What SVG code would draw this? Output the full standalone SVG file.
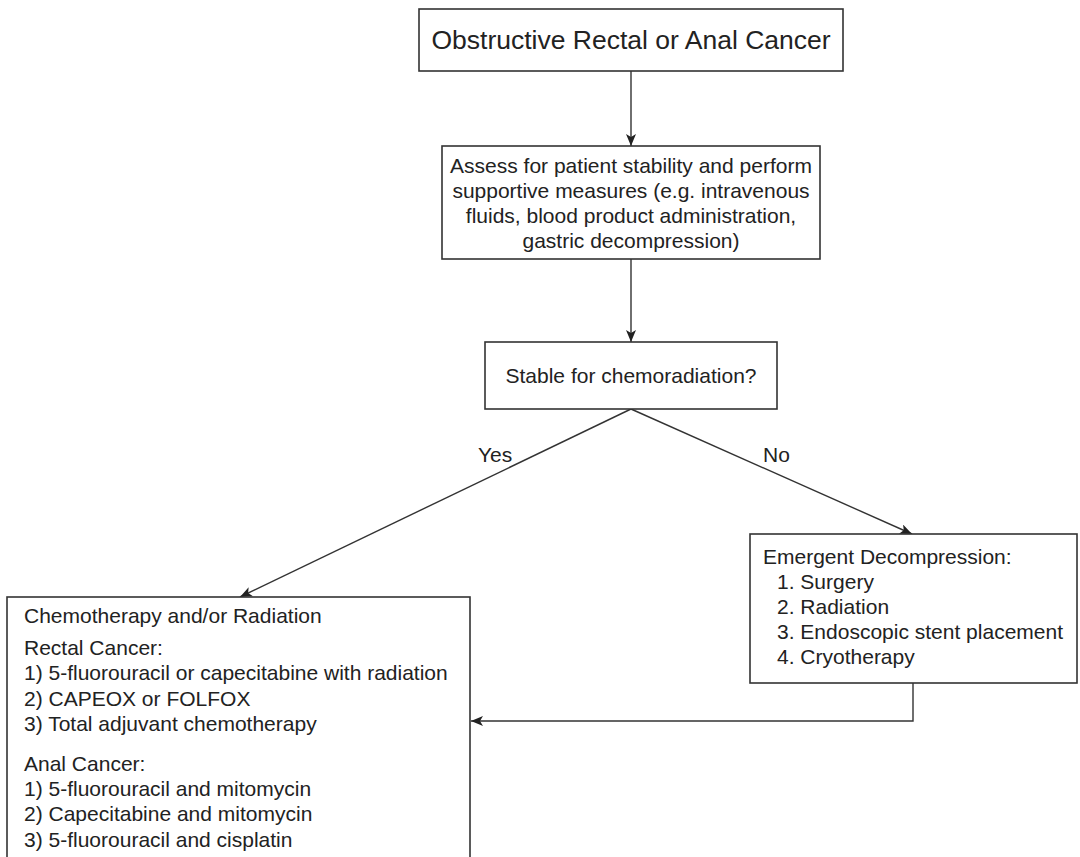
<svg xmlns="http://www.w3.org/2000/svg" width="1080" height="857" viewBox="0 0 1080 857">
<style>
.box{fill:#fff;stroke:#333;stroke-width:1.6}
.t{font-family:"Liberation Sans",Arial,sans-serif;font-size:21px;fill:#222}
.c{text-anchor:middle}
.ln{fill:none;stroke:#333;stroke-width:1.4}
</style>
<defs>
<marker id="ah" viewBox="0 0 12 10" refX="12" refY="5" markerWidth="12" markerHeight="10" markerUnits="userSpaceOnUse" orient="auto">
<path d="M0,0 L12,5 L0,10 L3,5 z" fill="#222"/>
</marker>
</defs>
<rect width="1080" height="857" fill="#fff"/>
<g id="connectors">
<line class="ln" x1="631" y1="71" x2="631" y2="146" marker-end="url(#ah)"/>
<line class="ln" x1="631" y1="259" x2="631" y2="342" marker-end="url(#ah)"/>
<line class="ln" x1="631" y1="409" x2="240" y2="597" marker-end="url(#ah)"/>
<line class="ln" x1="631" y1="409" x2="912" y2="534" marker-end="url(#ah)"/>
<polyline class="ln" points="913,683 913,721 471,721" marker-end="url(#ah)"/>
<text class="t" x="478" y="462">Yes</text>
<text class="t" x="763" y="462">No</text>
</g>
<g id="n1">
<rect class="box" x="419" y="9" width="424" height="62"/>
<text class="t c" x="631" y="49" style="font-size:26.5px">Obstructive Rectal or Anal Cancer</text>
</g>
<g id="n2">
<rect class="box" x="442" y="146" width="378" height="113"/>
<text class="t c" x="631" y="173">Assess for patient stability and perform</text>
<text class="t c" x="631" y="198">supportive measures (e.g. intravenous</text>
<text class="t c" x="631" y="223">fluids, blood product administration,</text>
<text class="t c" x="631" y="248">gastric decompression)</text>
</g>
<g id="n3">
<rect class="box" x="485" y="342" width="292" height="67"/>
<text class="t c" x="631" y="383">Stable for chemoradiation?</text>
</g>
<g id="n4">
<rect class="box" x="7" y="597" width="463" height="290"/>
<text class="t" x="24" y="623">Chemotherapy and/or Radiation</text>
<text class="t" x="24" y="655">Rectal Cancer:</text>
<text class="t" x="24" y="680">1) 5-fluorouracil or capecitabine with radiation</text>
<text class="t" x="24" y="706">2) CAPEOX or FOLFOX</text>
<text class="t" x="24" y="731">3) Total adjuvant chemotherapy</text>
<text class="t" x="24" y="771">Anal Cancer:</text>
<text class="t" x="24" y="796">1) 5-fluorouracil and mitomycin</text>
<text class="t" x="24" y="821">2) Capecitabine and mitomycin</text>
<text class="t" x="24" y="847">3) 5-fluorouracil and cisplatin</text>
</g>
<g id="n5">
<rect class="box" x="750" y="534" width="327" height="149"/>
<text class="t" x="763" y="564">Emergent Decompression:</text>
<text class="t" x="777" y="589">1. Surgery</text>
<text class="t" x="777" y="614">2. Radiation</text>
<text class="t" x="777" y="639">3. Endoscopic stent placement</text>
<text class="t" x="777" y="664">4. Cryotherapy</text>
</g>
</svg>
